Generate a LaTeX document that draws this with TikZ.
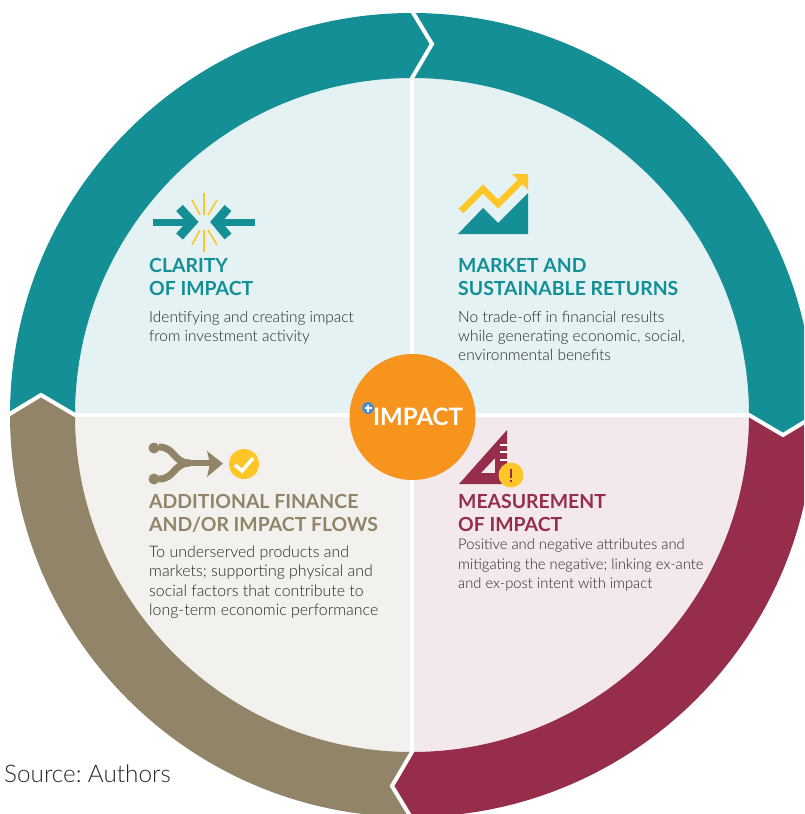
\documentclass[tikz,border=0pt]{standalone}
\usepackage{fontspec}
\setmainfont{Lato}
\newfontfamily\lightfont{Lato Light}
\definecolor{ringteal}{HTML}{148F96}
\definecolor{ringmaroon}{HTML}{962D4B}
\definecolor{ringtan}{HTML}{918468}
\definecolor{paneteal}{HTML}{E4F2F4}
\definecolor{panemaroon}{HTML}{F3E9ED}
\definecolor{panetan}{HTML}{F2F1ED}
\definecolor{hubcolor}{HTML}{F7941E}
\definecolor{sparkcolor}{HTML}{FFC627}
\definecolor{pluscolor}{HTML}{4A8FD6}
\definecolor{bodycolor}{HTML}{262626}
\tikzset{
  headtext/.style={anchor=north west, inner sep=0pt, align=left, font=\fontsize{19.4}{23}\selectfont\bfseries},
  bodytext/.style={anchor=north west, inner sep=0pt, align=left, text=bodycolor, font=\fontsize{#1}{19.2}\selectfont\lightfont},
  divider/.style={draw=white, line width=4pt, miter limit=10},
  spark/.style={draw=sparkcolor, line width=1.6pt},
}
\begin{document}
\begin{tikzpicture}[x=1pt, y=1pt]
  \useasboundingbox (0,-814) rectangle (804,0);
  \clip (0,-814) rectangle (804,0);
  \begin{scope}[shift={(412,-415)}]
    \foreach \turn/\panecolor/\ringcolor in {0/paneteal/ringteal, -90/panemaroon/ringmaroon, -180/panetan/ringtan, -270/paneteal/ringteal}{
      \begin{scope}[rotate=\turn]
        \fill[\panecolor] (0,0) -- (0,338) arc[start angle=90, end angle=0, radius=338pt] -- cycle;
        \fill[\ringcolor] (0,402) arc[start angle=90, end angle=0, radius=402pt] -- (371,-20) -- (337,0)
          arc[start angle=0, end angle=90, radius=337pt] -- (20,371) -- cycle;
      \end{scope}
    }
    \foreach \turn in {0, -90, -180, -270}{
      \draw[divider, rotate=\turn] (0,0) -- (0,337) -- (20,371) -- (0,404);
    }
  \end{scope}
  \node[circle, fill=hubcolor, minimum size=126pt, inner sep=0pt] (hub) at (412.5,-417) {};
  \node[text=white, inner sep=0pt, font=\fontsize{24}{24}\selectfont\bfseries] (hubtext) at (418,-417) {IMPACT};
  \node[circle, fill=pluscolor, minimum size=12pt, inner sep=0pt] (plus) at (368,-408) {};
  \draw[white, line width=1.5pt] (364.5,-408) -- (371.5,-408) (368,-404.5) -- (368,-411.5);

  % clarity icon
  \foreach \sx/\sy/\ex/\ey in {204/193/204/215, 204/230/204/252, 192/200/200/215, 217/200/208/215, 192/245/200/230, 217/245/208/230}{
    \draw[spark] (\sx,-\sy) -- (\ex,-\ey);
  }
  \draw[ringteal, line width=7pt] (153,-222) -- (190,-222) (255,-222) -- (220,-222);
  \draw[ringteal, line width=9pt] (179.5,-208) -- (192.5,-222) -- (179.5,-236.5);
  \draw[ringteal, line width=9pt] (228,-208) -- (216,-222) -- (228,-236.5);
  \node[headtext, text=ringteal] (clarityhead) at (149,-258) {CLARITY\\OF IMPACT};
  \node[bodytext=15.4] (claritybody) at (149,-311) {Identifying and creating impact\\from investment activity};

  % market icon
  \fill[ringteal] (458,-234) -- (483,-208) -- (498,-223) -- (528,-193) -- (528,-234) -- cycle;
  \draw[sparkcolor, line width=6.5pt] (461,-211) -- (483,-189) -- (498,-204) -- (522,-180);
  \fill[sparkcolor] (512,-174) -- (528,-174) -- (528,-190) -- cycle;
  \node[headtext, text=ringteal] (markethead) at (458,-258) {MARKET AND\\SUSTAINABLE RETURNS};
  \node[bodytext=15.5] (marketbody) at (458,-311) {No trade-off in financial results\\while generating economic, social,\\environmental benefits};

  % additional icon
  \fill[ringtan] (154,-448) circle[radius=5.5pt] (154,-479) circle[radius=5.5pt];
  \draw[ringtan, line width=7pt] (159,-447) .. controls (175,-447) and (173,-463) .. (190,-463);
  \draw[ringtan, line width=7pt] (159,-479) .. controls (175,-479) and (173,-463) .. (190,-463);
  \draw[ringtan, line width=6pt] (188,-463) -- (216,-463);
  \fill[ringtan] (207,-451) -- (223,-463.5) -- (207,-477) -- (210,-463.5) -- cycle;
  \node[circle, fill=sparkcolor, minimum size=30pt, inner sep=0pt] (checkdisc) at (244,-464) {};
  \draw[white, line width=3.5pt] (235,-465) -- (242,-471) -- (253,-458);
  \node[headtext, text=ringtan] (additionalhead) at (149,-494) {ADDITIONAL FINANCE\\AND/OR IMPACT FLOWS};
  \node[bodytext=15.9] (additionalbody) at (149,-546) {To underserved products and\\markets; supporting physical and\\social factors that contribute to\\long-term economic performance};

  % measurement icon
  \fill[ringmaroon, even odd rule] (459,-484) -- (507,-430) -- (507,-484) -- cycle (481,-473) -- (495,-458) -- (495,-473) -- cycle;
  \foreach \ty in {445, 452, 460}{
    \draw[white, line width=1.8pt] (500,-\ty) -- (507.5,-\ty);
  }
  \node[circle, fill=sparkcolor, minimum size=25pt, inner sep=0pt] (warndisc) at (511,-475) {};
  \draw[ringmaroon, line width=2.5pt] (511,-469) -- (511,-478) (511,-480) -- (511,-482);
  \node[headtext, text=ringmaroon] (measurehead) at (458,-494) {MEASUREMENT\\OF IMPACT};
  \node[bodytext=14.75] (measurebody) at (458,-539) {Positive and negative attributes and\\mitigating the negative; linking ex-ante\\and ex-post intent with impact};

  \node[anchor=north west, inner sep=0pt, text=bodycolor, font=\fontsize{24.3}{24}\selectfont\lightfont] (source) at (4,-765) {\spaceskip=4pt Source: Authors};
\end{tikzpicture}
\end{document}
